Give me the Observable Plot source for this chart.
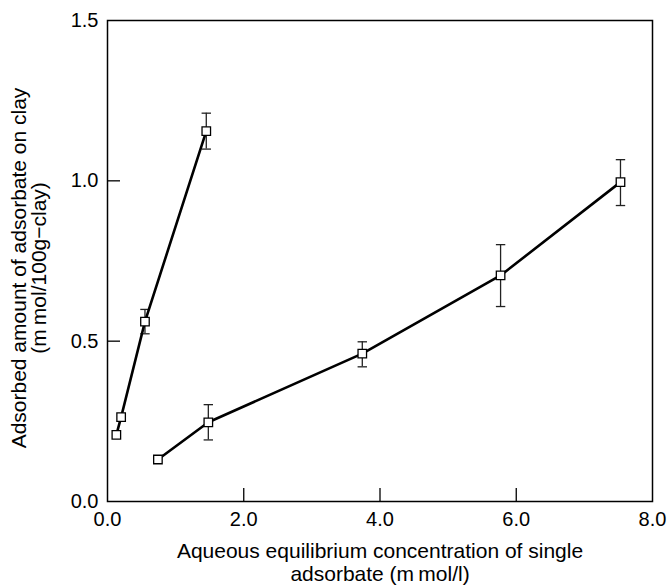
<!DOCTYPE html>
<html><head><meta charset="utf-8">
<script src="https://cdn.jsdelivr.net/npm/d3@7"></script>
<script src="https://cdn.jsdelivr.net/npm/@observablehq/plot@0.6"></script>
<style>body{margin:0;background:#fff} svg{display:block}</style>
</head><body><div id="chart"></div>
<script>
// Series 1 (steep curve)
const series1X = [0.13, 0.20, 0.55, 1.45];
const series1Y = [0.208, 0.263, 0.561, 1.155];
const series1Low = [null, null, 0.523, 1.099];
const series1High = [null, null, 0.599, 1.211];
// Series 2 (shallow curve)
const series2X = [0.74, 1.48, 3.74, 5.77, 7.53];
const series2Y = [0.131, 0.247, 0.461, 0.705, 0.996];
const series2Low = [null, 0.192, 0.420, 0.608, 0.923];
const series2High = [null, 0.302, 0.498, 0.801, 1.066];

const xTicks = [0, 2, 4, 6, 8];
const yTicks = [0, 0.5, 1.0, 1.5];
const xLabel = "Aqueous equilibrium concentration of single\nadsorbate (m\u2009mol/l)";
const yLabel = "Adsorbed amount of adsorbate on clay\n(m\u2009mol/100g\u2212clay)";

const rows = [];
series1X.forEach((x, i) => rows.push({series: "s1", x, y: series1Y[i], lo: series1Low[i], hi: series1High[i]}));
series2X.forEach((x, i) => rows.push({series: "s2", x, y: series2Y[i], lo: series2Low[i], hi: series2High[i]}));
const errRows = rows.filter(d => d.lo != null);

const capSymbol = {draw(ctx, size) { const h = Math.sqrt(size / Math.PI); ctx.moveTo(-h, 0); ctx.lineTo(h, 0); }};
const fmt = d3.format(".1f");

const chart = Plot.plot({
  width: 668, height: 585,
  marginLeft: 107, marginRight: 16, marginTop: 20, marginBottom: 84,
  style: {fontFamily: "'Liberation Sans', Arial, Helvetica, sans-serif", fontSize: "20px", color: "black", background: "white"},
  x: {domain: [0, 8]},
  y: {domain: [0, 1.5]},
  marks: [
    Plot.axisX({ticks: xTicks.slice(1, -1), tickSize: -13, strokeWidth: 1.3, tickFormat: () => "", label: null}),
    Plot.axisX({ticks: xTicks, tickSize: 0, tickPadding: 10, tickFormat: fmt, label: null, fontSize: 20}),
    Plot.axisY({ticks: yTicks.slice(1, -1), tickSize: -13, strokeWidth: 1.3, tickFormat: () => "", label: null}),
    Plot.axisY({ticks: yTicks, tickSize: 0, tickPadding: 9, tickFormat: fmt, label: null, fontSize: 20}),
    Plot.frame({stroke: "black", strokeWidth: 1.5}),
    Plot.text([xLabel], {frameAnchor: "bottom", textAnchor: "middle", dy: 40, lineAnchor: "top", lineHeight: 1.1, fontSize: 21, text: d => d}),
    Plot.text([yLabel], {frameAnchor: "left", textAnchor: "middle", dx: -96, dy: 7, rotate: -90, lineAnchor: "top", lineHeight: 0.95, fontSize: 21, text: d => d}),
    Plot.ruleX(errRows, {x: "x", y1: "lo", y2: "hi", stroke: "#222", strokeWidth: 1.3}),
    Plot.dot(errRows, {x: "x", y: "lo", symbol: capSymbol, r: 4.7, stroke: "#222", strokeWidth: 1.3}),
    Plot.dot(errRows, {x: "x", y: "hi", symbol: capSymbol, r: 4.7, stroke: "#222", strokeWidth: 1.3}),
    Plot.line(rows, {x: "x", y: "y", z: "series", stroke: "black", strokeWidth: 2.6}),
    Plot.dot(rows, {x: "x", y: "y", symbol: "square", r: 4.8, fill: "white", stroke: "black", strokeWidth: 1.3})
  ]
});
document.getElementById("chart").appendChild(chart);
</script>
</body></html>
